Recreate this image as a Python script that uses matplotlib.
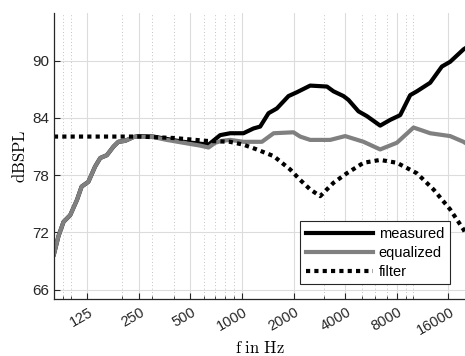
import numpy as np
import matplotlib
matplotlib.use('Agg')
import matplotlib.pyplot as plt
import matplotlib.transforms as mtransforms
from matplotlib.ticker import LogLocator, FixedLocator, NullFormatter

# values (Hz, dB SPL)
f_eq = [80, 85, 91, 99.5, 109, 116, 127, 139, 149, 163, 178, 190, 208, 233, 249, 304, 364, 455,
        571, 638, 698, 763, 853, 1020, 1307, 1530, 1997, 2185, 2500, 3270, 4000, 5120, 6400,
        8010, 10020, 12530, 16390, 19600, 20000]
equalized = [69.7, 71.6, 73.1, 73.8, 75.4, 76.8, 77.3, 78.9, 79.8, 80.1, 81.0, 81.5, 81.6, 82.0,
             82.05, 82.0, 81.7, 81.4, 81.1, 80.9, 81.4, 81.6, 81.7, 81.5, 81.5, 82.4, 82.5, 82.05,
             81.7, 81.7, 82.1, 81.5, 80.7, 81.4, 83.0, 82.4, 82.1, 81.5, 81.4]

f_meas = [80, 85, 91, 99.5, 109, 116, 127, 139, 149, 163, 178, 190, 208, 233, 249, 304, 364, 455,
          571, 638, 746, 853, 1020, 1167, 1277, 1428, 1598, 1868, 2090, 2500, 3130, 3419, 3910,
          4180, 4780, 5350, 6400, 7320, 8375, 9580, 10480, 12530, 14660, 16390, 19600, 20000]
measured = [69.7, 71.6, 73.1, 73.8, 75.4, 76.8, 77.3, 78.9, 79.8, 80.1, 81.0, 81.5, 81.6, 82.0,
            82.1, 82.05, 81.8, 81.5, 81.3, 81.2, 82.2, 82.4, 82.4, 82.9, 83.1, 84.5, 85.0, 86.3,
            86.7, 87.4, 87.3, 86.8, 86.3, 85.9, 84.7, 84.2, 83.2, 83.8, 84.3, 86.4, 86.8, 87.7,
            89.4, 89.9, 91.2, 91.3]

f_filt = [80, 250, 400, 620, 850, 1020, 1220, 1530, 1910, 2185, 2500, 2860, 3419, 4090, 5120,
          6400, 8010, 10480, 13100, 16390, 19600, 20000]
filt = [82.05, 82.05, 81.9, 81.6, 81.5, 81.2, 80.7, 80.0, 78.6, 77.5, 76.5, 75.8, 77.2, 78.2,
        79.3, 79.6, 79.3, 78.2, 76.5, 74.4, 72.3, 72.0]

xticks = [125, 250, 500, 1000, 2000, 4000, 8000, 16000]
yticks = [66, 72, 78, 84, 90]

plt.rcParams['mathtext.fontset'] = 'cm'
plt.rcParams['font.family'] = ['Liberation Sans', 'DejaVu Sans']

fig = plt.figure(figsize=(4.65, 3.56), dpi=100)
ax = fig.add_axes([0.116, 0.160, 0.884, 0.803])

ax.plot(f_meas, measured, color='black', lw=3, label='measured', solid_joinstyle='round')
ax.plot(f_eq, equalized, color='#808080', lw=3, label='equalized', solid_joinstyle='round')
ax.plot(f_filt, filt, color='black', lw=3, label='filter', dashes=(1, 1))

ax.set_xscale('log')
ax.set_xlim(80, 20000)
ax.set_ylim(65, 95)
ax.xaxis.set_major_locator(FixedLocator(xticks))
ax.xaxis.set_major_formatter(NullFormatter())
ax.xaxis.set_minor_locator(LogLocator(base=10, subs=np.arange(1, 10)))
ax.xaxis.set_minor_formatter(NullFormatter())
ax.set_yticks(yticks)
ax.set_yticklabels([str(t) for t in yticks], fontsize=11)

# rotated x tick labels, right end a bit right of and below the tick
off = mtransforms.ScaledTranslation(8 / 100, -6 / 100, fig.dpi_scale_trans)
for t in xticks:
    ax.text(t, 0, str(t), transform=ax.get_xaxis_transform() + off, rotation=30,
            ha='right', va='top', fontsize=10.5, color='#262626')

ax.tick_params(which='major', direction='in', length=4, width=0.8, color='#262626', labelcolor='#262626')
ax.tick_params(which='minor', direction='in', length=2, width=0.6, color='#262626')

ax.grid(True, which='major', color='#dcdcdc', lw=0.8)
ax.grid(True, which='minor', axis='x', color='#b0b0b0', lw=0.6, ls=(0, (1, 3)))
ax.set_axisbelow(True)

for s in ['top', 'right']:
    ax.spines[s].set_visible(False)
for s in ['left', 'bottom']:
    ax.spines[s].set_color('#262626')
    ax.spines[s].set_linewidth(0.9)

ax.set_xlabel(r'$\mathrm{f\ in\ Hz}$', fontsize=12)
ax.xaxis.set_label_coords(0.5, -0.145)
ax.xaxis.label.set_va('top')
ax.set_ylabel(r'$\mathrm{dBSPL}$', fontsize=12, labelpad=3)

leg = ax.legend(loc='lower right', bbox_to_anchor=(0.963, 0.051), fontsize=10.5,
                handlelength=4.6, fancybox=False, framealpha=1, edgecolor='#262626',
                borderpad=0.4, labelspacing=0.32, handletextpad=0.4, borderaxespad=0)
leg.get_frame().set_linewidth(0.8)

fig.savefig('out.png', dpi=100)
